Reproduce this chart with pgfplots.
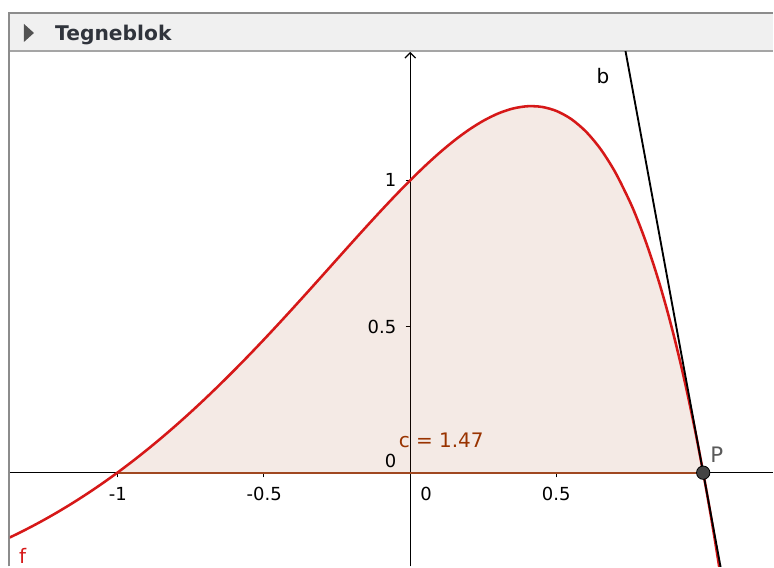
\documentclass[border=0pt]{standalone}
\usepackage{pgfplots}
\pgfplotsset{compat=1.18}
\usepackage{pgfplotstable}
\usepackage{fontspec}
\setmainfont{DejaVu Sans}
\usetikzlibrary{arrows.meta}

\definecolor{fcol}{RGB}{214,24,24}
\definecolor{icol}{RGB}{153,51,0}
\definecolor{iline}{RGB}{160,72,32}
\definecolor{barbg}{RGB}{240,240,240}
\definecolor{barline}{RGB}{165,165,165}
\definecolor{titlecol}{RGB}{48,52,60}
\definecolor{ptfill}{RGB}{68,68,68}
\definecolor{ptlabel}{RGB}{90,90,90}

% f(x) = (1 - x^2) e^x, sampled
\pgfplotstableread{
x y
-1.40 -0.23673
-1.35 -0.21323
-1.30 -0.18805
-1.25 -0.16116
-1.20 -0.13253
-1.15 -0.10212
-1.10 -0.06990
-1.05 -0.03587
-1.00 0
-0.95 0.03771
-0.90 0.07725
-0.85 0.11861
-0.80 0.16176
-0.75 0.20666
-0.70 0.25326
-0.65 0.30148
-0.60 0.35124
-0.55 0.40242
-0.50 0.45490
-0.45 0.50851
-0.40 0.56307
-0.35 0.61836
-0.30 0.67414
-0.25 0.73013
-0.20 0.78598
-0.15 0.84134
-0.10 0.89579
-0.05 0.94885
0.00 1.00000
0.05 1.04864
0.10 1.09412
0.15 1.13569
0.20 1.17255
0.25 1.20377
0.30 1.22837
0.35 1.24523
0.40 1.25313
0.45 1.25073
0.50 1.23654
0.55 1.20894
0.60 1.16616
0.65 1.10623
0.70 1.02701
0.75 0.92619
0.775 0.86692
0.80 0.80119
0.825 0.72872
0.85 0.64925
0.875 0.56224
0.90 0.46732
0.925 0.36409
0.95 0.25211
0.975 0.13090
1.00 0
1.025 -0.14110
1.05 -0.29291
1.075 -0.45598
1.10 -0.63087
}\fdata

\newcommand\lblfont{\fontsize{13.5}{16}\selectfont}
\newcommand\objfont{\fontsize{15}{18}\selectfont}

\begin{document}
\begin{tikzpicture}[x=0.75pt,y=0.75pt]
% window background and title bar
\fill[white] (0,0) rectangle (774,567);
\fill[barbg] (9,516) rectangle (774,554);
\draw[barline, line width=1.5pt] (9,516) -- (774,516);
\draw[barline!85!black, line width=1.5pt] (9,0) -- (9,554) -- (774,554);
\fill[black!68] (24,543) -- (24,525) -- (34,534) -- cycle;
\node[anchor=base west, inner sep=0pt, text=titlecol,
      font=\fontsize{15.2}{18}\selectfont\bfseries] at (55,526) {Tegneblok};

\begin{axis}[
  at={(7.5pt,0pt)}, anchor=south west,
  scale only axis, width=573pt, height=386.25pt,
  xmin=-1.3665, xmax=1.2383, ymin=-0.3200, ymax=1.4389,
  axis lines=middle,
  axis line style={black, line width=0.9pt},
  x axis line style={-},
  y axis line style={-{Straight Barb[length=4pt,width=8pt,line width=0.9pt]}},
  xtick={-1,-0.5,0.5}, ytick={0.5,1},
  xticklabels={}, yticklabels={},
  tick align=outside, major tick length=3.5pt,
  tick style={black, line width=0.8pt},
  clip=true,
]
% area under f between -1 and 1
\addplot[draw=none, fill=icol, fill opacity=0.1, smooth,
  restrict x to domain=-1.001:1.001] table {\fdata} -- cycle;
\addplot[iline, line width=1.6pt] coordinates {(-1,0) (1,0)};
% graph of f
\addplot[fcol, line width=1.9pt, smooth] table {\fdata};
% tangent b at P: y = -2e(x - 1)
\addplot[black, line width=1.4pt] coordinates {(0.70,1.63097) (1.08,-0.43492)};
% point P
\addplot[only marks, mark=*, mark size=5pt,
  mark options={fill=ptfill, draw=black, line width=0.6pt}] coordinates {(1,0)};
\end{axis}

% tick labels
\begin{scope}[every node/.style={inner sep=0pt, font=\lblfont}]
\node[anchor=base] at (118,65.5) {-1};
\node[anchor=base] at (264.5,65.5) {-0.5};
\node[anchor=base] at (426.7,65.5) {0};
\node[anchor=base] at (557,65.5) {0.5};
\node[anchor=base east] at (397,380) {1};
\node[anchor=base east] at (397,233) {0.5};
\node[anchor=base] at (391,99) {0};
\end{scope}
% object labels
\begin{scope}[every node/.style={inner sep=0pt, font=\objfont}]
\node[anchor=base west, text=icol] at (399,119) {c = 1.47};
\node[anchor=base west, text=ptlabel, font=\fontsize{16}{19}\selectfont] at (711,104) {P};
\node[anchor=base west] at (597,483) {b};
\node[anchor=base west, text=fcol] at (19,3) {f};
\end{scope}
\end{tikzpicture}
\end{document}
